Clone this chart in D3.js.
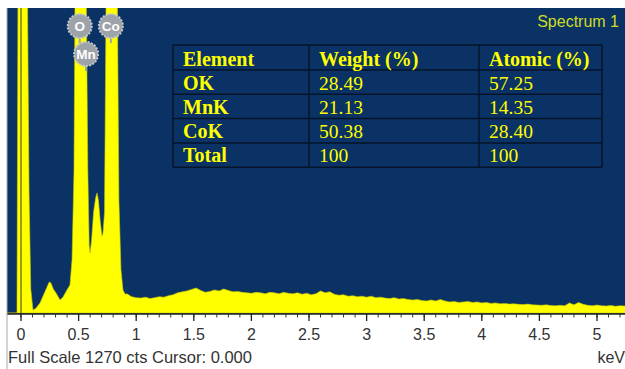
<!DOCTYPE html>
<html>
<head>
<meta charset="utf-8">
<script src="https://cdn.jsdelivr.net/npm/d3@7"></script>
<style>
  body { margin: 0; background: #fff; }
  svg { display: block; }
</style>
</head>
<body>
<script>
// spectrum: energy (keV) and counts
var energy = [-0.122, -0.035, -0.026, 0.055, 0.070, 0.085, 0.104, 0.130, 0.165, 0.200, 0.226, 0.245, 0.260, 0.280,
  0.304, 0.339, 0.365, 0.399, 0.425, 0.443, 0.460, 0.470, 0.565, 0.580, 0.592, 0.600, 0.612, 0.630, 0.648, 0.660,
  0.672, 0.688, 0.703, 0.712, 0.725, 0.740, 0.835, 0.850, 0.868, 0.885, 0.905,
  0.92, 0.96, 1.00, 1.04, 1.08, 1.12, 1.16, 1.20, 1.24, 1.28, 1.32, 1.36, 1.40, 1.44, 1.48, 1.52, 1.56, 1.60,
  1.64, 1.68, 1.72, 1.76, 1.80, 1.84, 1.88, 1.92, 1.96, 2.00, 2.04, 2.08, 2.12, 2.16, 2.20, 2.24, 2.28, 2.32,
  2.36, 2.40, 2.44, 2.48, 2.52, 2.56, 2.60, 2.64, 2.68, 2.72, 2.76, 2.80, 2.84, 2.88, 2.92, 2.96, 3.00, 3.04,
  3.08, 3.12, 3.16, 3.20, 3.24, 3.28, 3.32, 3.36, 3.40, 3.44, 3.48, 3.52, 3.56, 3.60, 3.64, 3.68, 3.72, 3.76,
  3.80, 3.84, 3.88, 3.92, 3.96, 4.00, 4.04, 4.08, 4.12, 4.16, 4.20, 4.24, 4.28, 4.32, 4.36, 4.40, 4.44, 4.48,
  4.52, 4.56, 4.60, 4.64, 4.68, 4.72, 4.76, 4.80, 4.84, 4.88, 4.92, 4.96, 5.00, 5.04, 5.08, 5.12, 5.16, 5.20, 5.25];
var counts = [0, 0, 1400, 1400, 500, 100, 12, 20, 42, 80, 108, 129, 125, 100,
  83, 54, 67, 96, 117, 221, 591, 1400, 1400, 600, 280, 250, 300, 420, 480, 500,
  470, 380, 320, 333, 420, 1400, 1400, 470, 179, 96, 78,
  80, 68, 64, 62, 66, 60, 64, 68, 66, 72, 76, 84, 88, 92, 98, 104, 94, 86,
  90, 96, 92, 100, 94, 88, 90, 86, 84, 82, 86, 84, 80, 86, 84, 80, 86, 82,
  80, 84, 78, 82, 76, 80, 92, 84, 88, 78, 74, 76, 70, 72, 68, 70, 66, 70,
  64, 66, 62, 60, 64, 58, 60, 56, 54, 56, 52, 50, 54, 50, 56, 50, 46, 48,
  44, 46, 48, 44, 46, 42, 44, 40, 42, 38, 40, 37, 38, 36, 35, 37, 34, 33,
  32, 34, 31, 30, 32, 30, 42, 34, 44, 36, 32, 30, 33, 30, 29, 31, 28, 30, 29];

var fullScale = 1270;
var majorTicks = [0, 0.5, 1, 1.5, 2, 2.5, 3, 3.5, 4, 4.5, 5];
var tickLabels = ["0", "0.5", "1", "1.5", "2", "2.5", "3", "3.5", "4", "4.5", "5"];

// element markers: label, keV position, row
var markerLabels = ["O", "Co", "Mn"];
var markerKeV = [0.51, 0.78, 0.565];
var markerRow = [0, 0, 1];

// quantification table
var tableHeader = ["Element", "Weight (%)", "Atomic (%)"];
var tableElements = ["OK", "MnK", "CoK", "Total"];
var tableWeight = ["28.49", "21.13", "50.38", "100"];
var tableAtomic = ["57.25", "14.35", "28.40", "100"];

var width = 625, height = 369;
var plot = {left: 7, right: 625, top: 8, bottom: 314};

var svg = d3.select("body").append("svg").attr("width", width).attr("height", height);

var x = d3.scaleLinear().domain([0, 5]).range([21, 597]);
x.domain([x.invert(plot.left), x.invert(plot.right)]).range([plot.left, plot.right]);
var y = d3.scaleLinear().domain([0, fullScale]).range([plot.bottom - 1, plot.top]);

svg.append("rect").attr("x", plot.left).attr("y", plot.top)
  .attr("width", plot.right - plot.left).attr("height", plot.bottom - plot.top)
  .attr("fill", "#0a3264");

svg.append("clipPath").attr("id", "clip").append("rect")
  .attr("x", plot.left).attr("y", plot.top)
  .attr("width", plot.right - plot.left).attr("height", plot.bottom - plot.top);

var data = energy.map(function(e, i) { return {e: e, c: counts[i]}; });

var area = d3.area()
  .x(function(d) { return x(d.e); })
  .y0(y(0))
  .y1(function(d) { return y(d.c); });

svg.append("path")
  .datum(data)
  .attr("clip-path", "url(#clip)")
  .attr("d", area)
  .attr("fill", "#ffff00")
  .attr("stroke", "#c8c800")
  .attr("stroke-width", 0.6);

// cursor line at 0 keV
svg.append("line")
  .attr("x1", x(0)).attr("x2", x(0))
  .attr("y1", plot.top).attr("y2", plot.bottom)
  .attr("stroke", "#3a3a20").attr("stroke-width", 1);

// axis
var axisG = svg.append("g").attr("transform", "translate(0," + plot.bottom + ")");
axisG.append("line").attr("x1", plot.left).attr("x2", plot.right)
  .attr("y1", 0).attr("y2", 0).attr("stroke", "#222").attr("stroke-width", 1.5);

var minor = d3.range(0, 53).map(function(i) { return i / 10; });
axisG.selectAll(".minor").data(minor).enter().append("line")
  .attr("class", "minor")
  .attr("x1", function(d) { return x(d); }).attr("x2", function(d) { return x(d); })
  .attr("y1", 0).attr("y2", 3.5)
  .attr("stroke", "#333").attr("stroke-width", 1);

axisG.selectAll(".major").data(majorTicks).enter().append("line")
  .attr("class", "major")
  .attr("x1", function(d) { return x(d); }).attr("x2", function(d) { return x(d); })
  .attr("y1", 0).attr("y2", 7)
  .attr("stroke", "#222").attr("stroke-width", 1.3);

axisG.selectAll(".lbl").data(majorTicks).enter().append("text")
  .attr("class", "lbl")
  .attr("x", function(d) { return x(d); })
  .attr("y", 26)
  .attr("text-anchor", "middle")
  .attr("font-family", "Liberation Sans, Arial, sans-serif")
  .attr("font-size", 16)
  .attr("fill", "#333")
  .text(function(d, i) { return tickLabels[i]; });

svg.append("line").attr("x1", plot.left).attr("x2", plot.left)
  .attr("y1", plot.top).attr("y2", height)
  .attr("stroke", "#aaa").attr("stroke-width", 1);

svg.append("text")
  .attr("x", 8).attr("y", 363)
  .attr("font-family", "Liberation Sans, Arial, sans-serif")
  .attr("font-size", 16.5)
  .attr("fill", "#333")
  .text("Full Scale " + fullScale + " cts Cursor: 0.000");

svg.append("text")
  .attr("x", 625).attr("y", 363)
  .attr("text-anchor", "end")
  .attr("font-family", "Liberation Sans, Arial, sans-serif")
  .attr("font-size", 16)
  .attr("fill", "#333")
  .text("keV");

svg.append("text")
  .attr("x", 619).attr("y", 27)
  .attr("text-anchor", "end")
  .attr("font-family", "Liberation Sans, Arial, sans-serif")
  .attr("font-size", 16)
  .attr("fill", "#cfdc26")
  .text("Spectrum 1");

// element markers
var mk = svg.selectAll(".marker").data(markerLabels).enter().append("g")
  .attr("class", "marker")
  .attr("transform", function(d, i) {
    return "translate(" + x(markerKeV[i]) + "," + (26 + markerRow[i] * 28) + ")";
  });
mk.append("line").attr("x1", 0).attr("x2", 0).attr("y1", 11).attr("y2", 17)
  .attr("stroke", "#9ea3aa").attr("stroke-width", 2);
mk.append("circle").attr("r", 12)
  .attr("fill", "#9ea3aa")
  .attr("stroke", "#c3c7cc").attr("stroke-width", 2)
  .attr("stroke-dasharray", "2,1.4");
mk.append("text")
  .attr("y", 5)
  .attr("text-anchor", "middle")
  .attr("font-family", "Liberation Sans, Arial, sans-serif")
  .attr("font-weight", "bold")
  .attr("font-size", 13.5)
  .attr("fill", "#fff")
  .text(function(d) { return d; });

// table
var tbl = {left: 173, right: 602, top: 45, headerH: 25, rowH: 24.3};
var colX = [173, 309, 479, 602];
var tg = svg.append("g");
var nRows = tableElements.length;
var tBottom = tbl.top + tbl.headerH + nRows * tbl.rowH;
var rowY = [tbl.top, tbl.top + tbl.headerH];
for (var r = 1; r <= nRows; r++) rowY.push(tbl.top + tbl.headerH + r * tbl.rowH);

tg.selectAll(".hline").data(rowY).enter().append("line")
  .attr("x1", colX[0]).attr("x2", colX[3])
  .attr("y1", function(d) { return d; }).attr("y2", function(d) { return d; })
  .attr("stroke", "#06142a").attr("stroke-width", 1.5);
tg.selectAll(".vline").data(colX).enter().append("line")
  .attr("x1", function(d) { return d; }).attr("x2", function(d) { return d; })
  .attr("y1", tbl.top).attr("y2", tBottom)
  .attr("stroke", "#06142a").attr("stroke-width", 1.5);

var serif = "Liberation Serif, Times New Roman, serif";
tableHeader.forEach(function(h, j) {
  tg.append("text").attr("x", colX[j] + 10).attr("y", tbl.top + 20.5)
    .attr("font-family", serif).attr("font-weight", "bold").attr("font-size", 20)
    .attr("fill", "#ffff00").text(h);
});
tableElements.forEach(function(el, i) {
  var by = tbl.top + tbl.headerH + i * tbl.rowH + 19.5;
  tg.append("text").attr("x", colX[0] + 10).attr("y", by)
    .attr("font-family", serif).attr("font-weight", "bold").attr("font-size", 20)
    .attr("fill", "#ffff00").text(el);
  tg.append("text").attr("x", colX[1] + 10).attr("y", by)
    .attr("font-family", serif).attr("font-size", 19.5)
    .attr("fill", "#ffff00").text(tableWeight[i]);
  tg.append("text").attr("x", colX[2] + 10).attr("y", by)
    .attr("font-family", serif).attr("font-size", 19.5)
    .attr("fill", "#ffff00").text(tableAtomic[i]);
});
</script>
</body>
</html>
